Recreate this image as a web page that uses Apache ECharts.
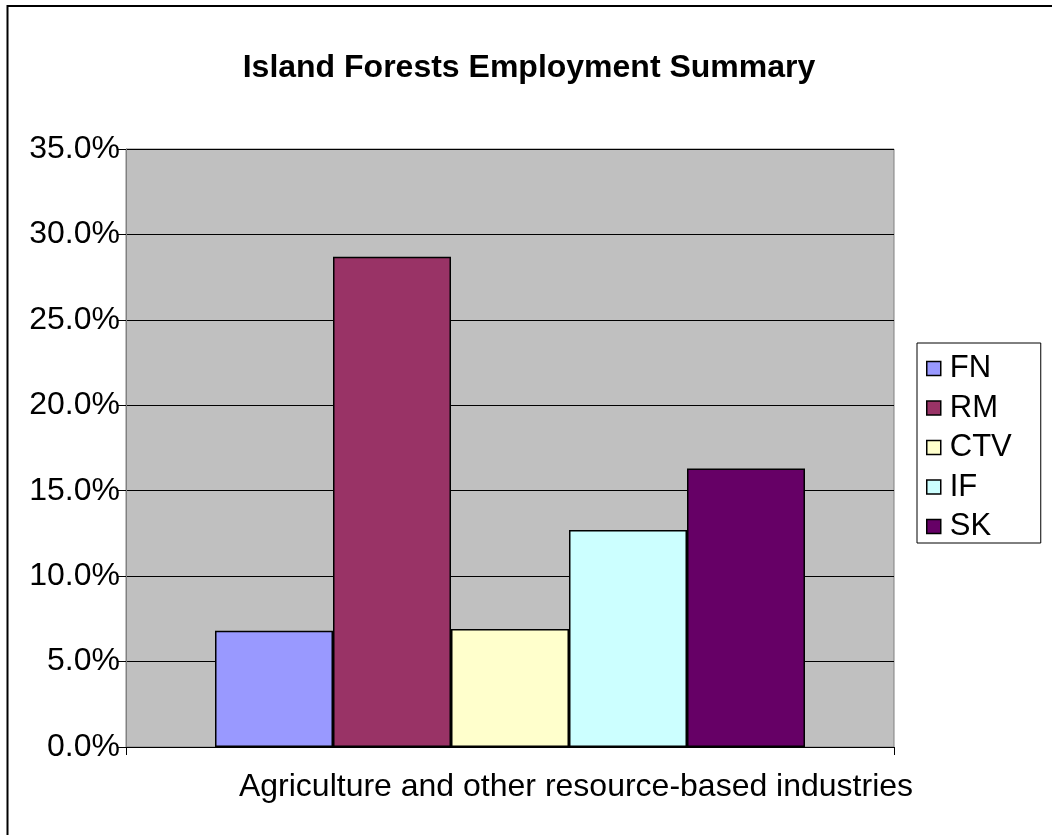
<!DOCTYPE html>
<html>
<head>
<meta charset="utf-8">
<script src="https://cdn.jsdelivr.net/npm/echarts@6/dist/echarts.min.js"></script>
<style>
  html, body { margin: 0; padding: 0; background: #ffffff; }
  #chart { width: 1052px; height: 835px; }
</style>
</head>
<body>
<div id="chart"></div>
<script>
// Employment share by region, single industry group
const categories = ['Agriculture and other resource-based industries'];
const seriesNames = ['FN', 'RM', 'CTV', 'IF', 'SK'];
const seriesValues = {
  FN: [6.8],
  RM: [28.7],
  CTV: [6.9],
  IF: [12.7],
  SK: [16.3]
};
const seriesColors = ['#9999ff', '#993366', '#ffffcc', '#ccffff', '#660066'];
const yTicks = { min: 0, max: 35, interval: 5 };

const FONT = '"Liberation Sans", Arial, sans-serif';

const chart = echarts.init(document.getElementById('chart'), null, { renderer: 'canvas' });

const series = seriesNames.map((name, i) => ({
  name: name,
  type: 'bar',
  data: seriesValues[name],
  barWidth: 118,
  barGap: '0%',
  itemStyle: {
    color: seriesColors[i],
    borderColor: '#000000',
    borderWidth: 1.5
  }
}));

chart.setOption({
  animation: false,
  backgroundColor: '#ffffff',
  textStyle: { fontFamily: FONT },
  graphic: [{
    type: 'rect',
    shape: { x: 7.5, y: 6, width: 1100, height: 900 },
    style: { fill: 'none', stroke: '#000000', lineWidth: 2 },
    silent: true,
    z: 100
  }],
  title: {
    text: 'Island Forests Employment Summary',
    left: 524,
    textAlign: 'center',
    top: 47,
    textStyle: { fontFamily: FONT, fontSize: 32, fontWeight: 'bold', color: '#000000' }
  },
  legend: {
    orient: 'vertical',
    left: 917,
    top: 343,
    data: seriesNames,
    itemWidth: 14,
    itemHeight: 14,
    itemGap: 8.5,
    padding: [10, 29, 1, 9],
    borderColor: '#000000',
    borderWidth: 1,
    backgroundColor: '#ffffff',
    icon: 'rect',
    itemStyle: { borderColor: '#000000', borderWidth: 1.5 },
    textStyle: { fontFamily: FONT, fontSize: 31, color: '#000000', padding: [0, 0, 0, 4] }
  },
  grid: {
    left: 126,
    right: 158,
    top: 149,
    bottom: 88,
    show: true,
    backgroundColor: '#c0c0c0',
    borderColor: '#808080',
    borderWidth: 1
  },
  xAxis: {
    type: 'category',
    data: categories,
    boundaryGap: true,
    axisLine: { show: true, lineStyle: { color: '#000000', width: 1 } },
    axisTick: { show: true, length: 8, lineStyle: { color: '#000000' } },
    axisLabel: {
      margin: 24,
      fontFamily: FONT,
      fontSize: 32,
      color: '#000000',
      padding: [0, 0, 0, 132]
    }
  },
  yAxis: {
    type: 'value',
    min: yTicks.min,
    max: yTicks.max,
    interval: yTicks.interval,
    axisLine: { show: true, lineStyle: { color: '#808080', width: 1 } },
    axisTick: { show: true, length: 8, lineStyle: { color: '#000000' } },
    splitLine: { show: true, lineStyle: { color: '#000000', width: 1 } },
    axisLabel: {
      margin: 6,
      fontFamily: FONT,
      fontSize: 32,
      color: '#000000',
      formatter: v => v.toFixed(1) + '%'
    }
  },
  series: series
});
</script>
</body>
</html>
